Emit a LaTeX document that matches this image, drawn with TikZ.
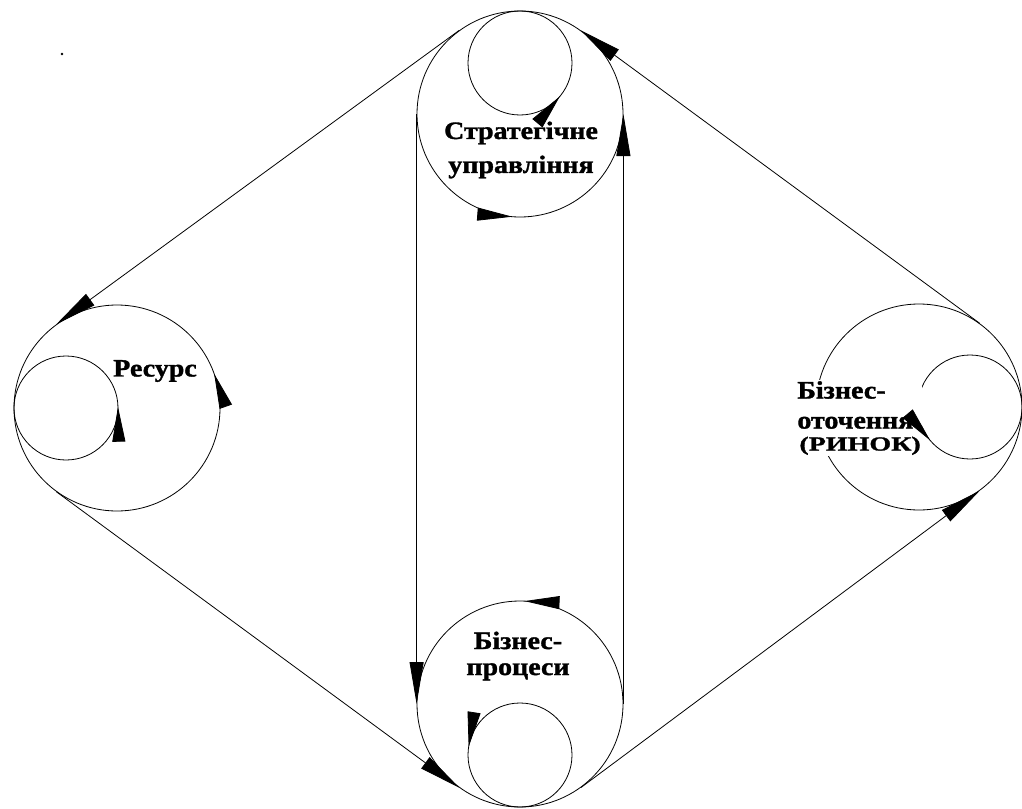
\documentclass[tikz,border=0pt]{standalone}
\usepackage{fontspec}
\newfontfamily\lbl[FakeStretch=1.12, BoldFeatures={FakeBold=1.4}]{Liberation Serif}
\usetikzlibrary{arrows.meta,decorations.markings}

\begin{document}
\begin{tikzpicture}[x=1pt, y=1pt, line width=0.8pt,
  big node/.style={circle,draw,minimum size=206pt,inner sep=0pt},
  small node/.style={circle,draw,minimum size=104pt,inner sep=0pt},
  conn/.style={-{Triangle[length=42pt,width=14pt]}},
  turn at/.style={postaction={decorate},decoration={markings,mark=at position #1 with {\arrow{Triangle[length=35pt,width=13pt]}}}},
  circle text/.style={font=\lbl\bfseries\fontsize{25}{34}\selectfont, fill=white, inner sep=1pt}]
\useasboundingbox (0,0) rectangle (1022,-808);
\fill (62,-54) circle (1.3pt);
% the four cycles
\node [big node] (strat) at (520,-114) {};
\node [big node] (res) at (117,-408) {};
\node [big node] (env) at (919,-407) {};
\node [big node] (proc) at (520,-704) {};
\node [small node, anchor=north] (stratin) at (strat.north) {};
\node [small node, anchor=west] (resin) at (res.west) {};
\node [small node, anchor=east] (envin) at (env.east) {};
\node [small node, anchor=south] (procin) at (proc.south) {};
\begin{scope}[every node/.style={circle text}]
\node [align=center] (stratname) at (521,-150) {Стратегічне\\управління};
\node (resname) at (155,-371) {Ресурс};
\node [align=left, anchor=west] (envname) at (796,-418) {Бізнес-\\[-4pt]оточення\\[-12pt]\hspace*{2pt}{\fontsize{20}{20}\selectfont\addfontfeature{FakeStretch=1.4}(РИНОК)}};
\node [align=center] (procname) at (518,-656) {Бізнес-\\[-8pt]процеси};
\end{scope}
% turning arrows
\path [turn at=0.738] (strat.center) circle (103pt);
\path [turn at=0.889] (stratin.center) circle (52pt);
\path [turn at=0.054] (res.center) circle (103pt);
\path [turn at=0.004] (resin.center) circle (52pt);
\path [turn at=0.611] (envin.center) circle (52pt);
\path [turn at=0.243] (proc.center) circle (103pt);
\path [turn at=0.475] (procin.center) circle (52pt);
\path 
    (strat.126) edge[conn] (res.126)
    (res.234) edge[conn] (proc.234)
    (proc.306) edge[conn] (env.306)
    (env.54) edge[conn] (strat.54)
    (strat.west) edge[conn] (proc.west)
    (proc.east) edge[conn] (strat.east)
         ;
\end{tikzpicture}
\end{document}
